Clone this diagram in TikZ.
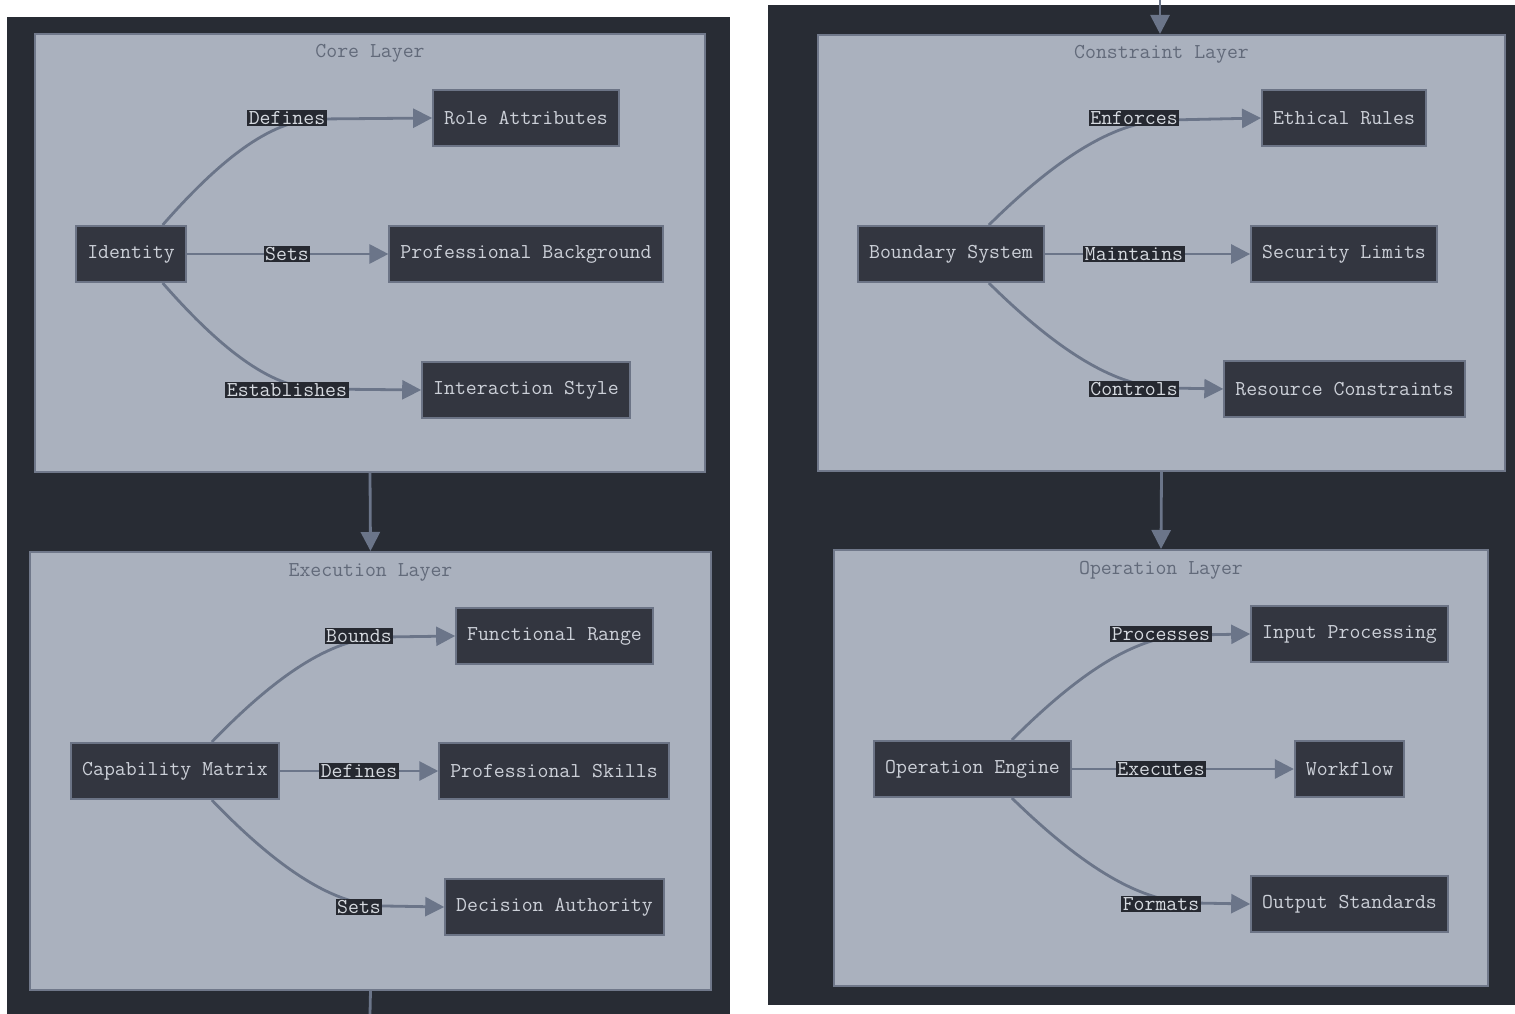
\documentclass[tikz,border=0pt]{standalone}
\usepackage{fontspec}
\usepackage{tikz}
\usetikzlibrary{arrows.meta, positioning}
\definecolor{panelbg}{RGB}{40,44,52}
\definecolor{layerfill}{RGB}{170,177,190}
\definecolor{layerline}{RGB}{112,120,138}
\definecolor{titletext}{RGB}{98,106,122}
\definecolor{boxfill}{RGB}{51,54,64}
\definecolor{boxline}{RGB}{108,116,134}
\definecolor{boxtext}{RGB}{204,208,216}
\definecolor{tagfill}{RGB}{38,41,49}
\definecolor{tagtext}{RGB}{214,218,224}
\definecolor{linkcol}{RGB}{107,117,137}
\newcommand{\diagfont}{\ttfamily\fontsize{21.2}{24}\selectfont}

\begin{document}
\begin{tikzpicture}[x=1pt, y=-1pt,
    box/.style={draw=boxline, fill=boxfill, line width=2pt, text=boxtext, font=\diagfont, minimum height=56pt, inner xsep=11pt},
    layer/.style={draw=layerline, fill=layerfill, line width=2pt, inner sep=0pt},
    layertitle/.style={text=titletext, font=\diagfont, inner sep=0pt, anchor=base},
    tag/.style={fill=tagfill, text=tagtext, font=\diagfont, inner sep=1.5pt},
    link/.style={draw=linkcol, line width=2.8pt, -{Triangle[length=19pt,width=19pt]}}]
    \useasboundingbox (0,0) rectangle (1515,1014);
    \fill[white] (0,0) rectangle (1515,1014);

    % Dark panels
    \fill[panelbg] (7,17) rectangle (730,1014);
    \fill[panelbg] (768,5) rectangle (1515,1005);

    % Layers
    \node[layer, minimum width=670pt, minimum height=438pt] (core) at (370,253) {};
    \node[layer, minimum width=681pt, minimum height=438pt] (exec) at (370.5,771) {};
    \node[layer, minimum width=687pt, minimum height=436pt] (cons) at (1161.5,253) {};
    \node[layer, minimum width=654pt, minimum height=436pt] (oper) at (1161,768) {};
    \node[layertitle] at ([yshift=-25pt]core.north) {Core Layer};
    \node[layertitle] at ([yshift=-25pt]exec.north) {Execution Layer};
    \node[layertitle] at ([yshift=-25pt]cons.north) {Constraint Layer};
    \node[layertitle] at ([yshift=-25pt]oper.north) {Operation Layer};

    % Core layer
    \node[box] (idty) at (131,254) {Identity};
    \node[box] (roleattr) at (526,118) {Role Attributes};
    \node[box] (profbg) at (526,254) {Professional Background};
    \node[box] (interstyle) at (526,390) {Interaction Style};
    \coordinate (kDefines) at (320,119);
    \coordinate (kEstab) at (320,389);
    \draw[link] ([xshift=-24pt]idty.north east) .. controls +(70,-80) and +(-40,0) .. (kDefines) -- (roleattr.west);
    \draw[link] (idty.east) -- (profbg.west);
    \draw[link] ([xshift=-24pt]idty.south east) .. controls +(70,80) and +(-40,0) .. (kEstab) -- (interstyle.west);
    \node[tag] (tDefines) at (287,118) {Defines};
    \node[tag] (tSets) at (287,254) {Sets};
    \node[tag] (tEstab) at (287,390) {Establishes};

    % Execution layer
    \node[box] (capmat) at (175,771) {Capability Matrix};
    \node[box] (funcrange) at (554.5,636) {Functional Range};
    \node[box] (profskills) at (554,771) {Professional Skills};
    \node[box] (decauth) at (554.5,907) {Decision Authority};
    \coordinate (kBounds) at (385,637);
    \coordinate (kSetsB) at (385,906);
    \draw[link] ([xshift=-68pt]capmat.north east) .. controls +(77,-80) and +(-43,0) .. (kBounds) -- (funcrange.west);
    \draw[link] (capmat.east) -- (profskills.west);
    \draw[link] ([xshift=-68pt]capmat.south east) .. controls +(77,80) and +(-43,0) .. (kSetsB) -- (decauth.west);
    \node[tag] (tBounds) at (359,636) {Bounds};
    \node[tag] (tDefinesB) at (359,771) {Defines};
    \node[tag] (tSetsB) at (359,907) {Sets};

    % Constraint layer
    \node[box] (boundsys) at (951,254) {Boundary System};
    \node[box] (ethrules) at (1344,118) {Ethical Rules};
    \node[box] (seclimits) at (1344,254) {Security Limits};
    \node[box] (rescons) at (1344.5,389) {Resource Constraints};
    \coordinate (kEnforces) at (1170,120);
    \coordinate (kControls) at (1170,388);
    \draw[link] ([xshift=-56pt]boundsys.north east) .. controls +(81,-80) and +(-45,0) .. (kEnforces) -- (ethrules.west);
    \draw[link] (boundsys.east) -- (seclimits.west);
    \draw[link] ([xshift=-56pt]boundsys.south east) .. controls +(81,80) and +(-45,0) .. (kControls) -- (rescons.west);
    \node[tag] (tEnforces) at (1134,118) {Enforces};
    \node[tag] (tMaintains) at (1134,254) {Maintains};
    \node[tag] (tControls) at (1134,389) {Controls};

    % Operation layer
    \node[box] (opengine) at (972.5,769) {Operation Engine};
    \node[box] (inproc) at (1349.5,634) {Input Processing};
    \node[box] (workflow) at (1349.5,769) {Workflow};
    \node[box] (outstd) at (1349.5,904) {Output Standards};
    \coordinate (kProcesses) at (1190,635);
    \coordinate (kFormats) at (1195,903);
    \draw[link] ([xshift=-60pt]opengine.north east) .. controls +(80,-80) and +(-45,0) .. (kProcesses) -- (inproc.west);
    \draw[link] (opengine.east) -- (workflow.west);
    \draw[link] ([xshift=-60pt]opengine.south east) .. controls +(82,80) and +(-46,0) .. (kFormats) -- (outstd.west);
    \node[tag] (tProcesses) at (1161,634) {Processes};
    \node[tag] (tExecutes) at (1161,769) {Executes};
    \node[tag] (tFormats) at (1161,904) {Formats};

    % Links between layers
    \coordinate (topin) at (1160,0);
    \coordinate (botout) at (370,1014);
    \draw[link] (core.south) -- (exec.north);
    \draw[link] (cons.south) -- (oper.north);
    \draw[link] (topin) -- (topin |- cons.north);
    \draw[draw=linkcol, line width=2.8pt] (exec.south) -- (botout);
\end{tikzpicture}
\end{document}
